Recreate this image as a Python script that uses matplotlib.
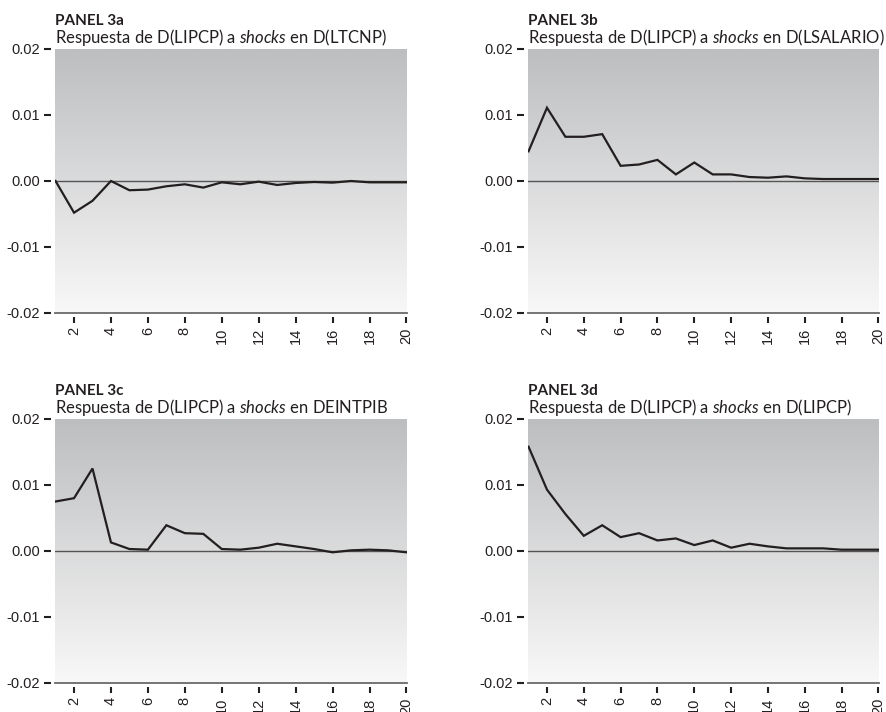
import numpy as np
import matplotlib
matplotlib.use("Agg")
import matplotlib.pyplot as plt
from matplotlib.colors import LinearSegmentedColormap

# Impulse responses of D(LIPCP), periods 1..20
periods = list(range(1, 21))

resp_ltcnp = [0.0, -0.0048, -0.0030, 0.0000, -0.0014, -0.0013, -0.0008, -0.0005,
              -0.0010, -0.0002, -0.0005, -0.0001, -0.0006, -0.0003, -0.00015,
              -0.00025, 0.0000, -0.0002, -0.0002, -0.0002]
resp_lsalario = [0.0045, 0.0111, 0.0067, 0.0067, 0.0071, 0.0023, 0.0025, 0.0032,
                 0.0010, 0.0028, 0.0010, 0.0010, 0.0006, 0.0005, 0.0007, 0.0004,
                 0.0003, 0.0003, 0.0003, 0.0003]
resp_deintpib = [0.0075, 0.0080, 0.0125, 0.0013, 0.0003, 0.0002, 0.0039, 0.0027,
                 0.0026, 0.0003, 0.0002, 0.0005, 0.0011, 0.0007, 0.0003, -0.0002,
                 0.0001, 0.0002, 0.0001, -0.0002]
resp_lipcp = [0.0158, 0.0093, 0.0056, 0.0023, 0.0039, 0.0021, 0.0027, 0.0016,
              0.0019, 0.0009, 0.0016, 0.0005, 0.0011, 0.0007, 0.0004, 0.0004,
              0.0004, 0.0002, 0.0002, 0.0002]

panel_labels = ["PANEL 3a", "PANEL 3b", "PANEL 3c", "PANEL 3d"]
shock_names = ["D(LTCNP)", "D(LSALARIO)", "DEINTPIB", "D(LIPCP)"]
series = [resp_ltcnp, resp_lsalario, resp_deintpib, resp_lipcp]

y_ticks = [-0.02, -0.01, 0.0, 0.01, 0.02]
y_ticklabels = ["-0.02", "-0.01", "0.00", "0.01", "0.02"]
x_ticks = list(range(2, 21, 2))

# italic "shocks" set in the same family as the subtitle
plt.rcParams["mathtext.fontset"] = "custom"
plt.rcParams["mathtext.rm"] = "Lato"
plt.rcParams["mathtext.it"] = "Lato:italic"
plt.rcParams["mathtext.bf"] = "Lato:bold"

W, H = 887, 712
fig = plt.figure(figsize=(W / 100, H / 100), dpi=100)
fig.patch.set_facecolor("white")

ink = "#231f20"
grad_cmap = LinearSegmentedColormap.from_list("bg", ["#f8f8f8", "#bdbec0"])
gradient = np.linspace(0, 1, 256).reshape(-1, 1)

# axes boxes in pixels: left, top, right, bottom
boxes = [(55, 49, 407, 313), (528, 49, 879, 313),
         (55, 419, 407, 683), (528, 419, 879, 683)]

title_font = ["Lato", "DejaVu Sans"]
tick_font = ["Liberation Sans", "DejaVu Sans"]

for box, plabel, shock, vals in zip(boxes, panel_labels, shock_names, series):
    l, t, r, b = box
    ax = fig.add_axes([l / W, 1 - b / H, (r - l) / W, (b - t) / H])
    ax.set_facecolor("none")

    ax.imshow(gradient, extent=[0, 1, 0, 1], transform=ax.transAxes,
              aspect="auto", cmap=grad_cmap, origin="lower", zorder=0,
              interpolation="bilinear")

    ax.axhline(0, color="#555555", lw=1.0, zorder=2)
    ax.axhline(-0.02, color="#6a6a6a", lw=1.3, zorder=2, clip_on=False)
    ax.plot(periods, vals, color=ink, lw=1.6, zorder=3,
            solid_joinstyle="miter")

    ax.set_xlim(0.97, 20.03)
    ax.set_ylim(-0.02, 0.02)

    for s in ax.spines.values():
        s.set_visible(False)
    ax.spines["left"].set_position(("outward", 3))
    ax.spines["bottom"].set_position(("outward", 3))

    ax.set_yticks(y_ticks)
    ax.set_yticklabels(y_ticklabels, family=tick_font, fontsize=10.5,
                       color=ink)
    ax.set_xticks(x_ticks)
    ax.set_xticklabels([str(v) for v in x_ticks], family=tick_font,
                       fontsize=10.5, color=ink, rotation=90)
    ax.tick_params(axis="y", direction="out", length=5, width=1.5,
                   color=ink, pad=3)
    ax.tick_params(axis="x", direction="out", length=4.3, width=1.5,
                   color=ink, pad=3)

    ax.annotate(plabel, xy=(0, 1), xycoords="axes fraction",
                xytext=(0, 17.3), textcoords="offset points",
                ha="left", va="baseline", fontsize=11, fontweight="bold",
                family=title_font, color=ink)
    ax.annotate("Respuesta de D(LIPCP) a $\\it{shocks}$ en " + shock,
                xy=(0, 1), xycoords="axes fraction",
                xytext=(0, 4.3), textcoords="offset points",
                ha="left", va="baseline", fontsize=12,
                family=title_font, color=ink)

fig.savefig("out.png", dpi=100)
